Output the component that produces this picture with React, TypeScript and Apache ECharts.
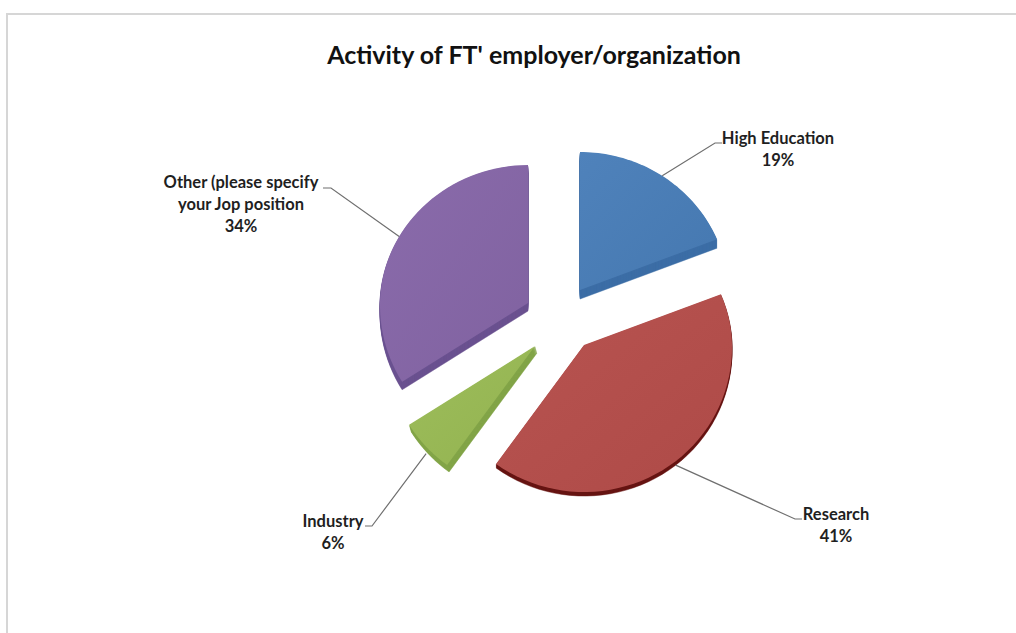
import React, { useEffect, useRef } from "react";
import * as echarts from "echarts";

const titleText = "Activity of FT' employer/organization";
const categories = ["High Education", "Research", "Industry", "Other (please specify\nyour Jop position"];
const values = [19, 41, 6, 34];

const topColors = [
  ["#4f82bb", "#4578b0"],
  ["#b85451", "#ae4a47"],
  ["#9dbd5b", "#93b350"],
  ["#8a6bab", "#8062a0"],
];
const sideColors = ["#3d6ea6", "#661412", "#83a548", "#6b5290"];

// top-surface apex of each exploded slice, and its extrusion vector
const apexes = [[580, 290], [584, 345], [535, 346], [528, 303]];
const depths = [[0, 9], [0, 4], [2, 7], [0, 8]];
const radiusXMean = 148;
const radiusXTilt = 2;
const radiusBack = 138;
const radiusFront = 147;

// leader line: elbow, then end; label centre
const leaderElbows = [[715, 143], [795, 519], [372, 526], [331, 188]];
const leaderEnds = [[722, 143], [802, 519], [365, 526], [323, 188]];
const labelCentres = [[778, 149], [836, 525], [333, 532], [241, 204]];

const total = values.reduce((a, b) => a + b, 0);

function project(apex: number[], turn: number) {
  const t = turn * Math.PI * 2;
  const c = Math.cos(t);
  const rx = radiusXMean - radiusXTilt * c;
  return [apex[0] + rx * Math.sin(t), apex[1] - (c > 0 ? radiusBack : radiusFront) * c];
}

function renderSlice(params: any, api: any) {
  const i = params.dataIndex;
  const value = api.value(0);
  let before = 0;
  for (let k = 0; k < i; k++) before += values[k];
  const start = before / total;
  const end = (before + value) / total;
  const apex = apexes[i];
  const pts: number[][] = [apex];
  const steps = 48;
  for (let s = 0; s <= steps; s++) pts.push(project(apex, start + ((end - start) * s) / steps));

  const children: any[] = [];
  const [dx, dy] = depths[i];
  const layers = Math.max(Math.abs(dx), Math.abs(dy));
  for (let l = layers; l >= 1; l--) {
    const ox = (dx * l) / layers;
    const oy = (dy * l) / layers;
    children.push({
      type: "polygon",
      shape: { points: pts.map((p) => [p[0] + ox, p[1] + oy]) },
      style: { fill: sideColors[i], stroke: sideColors[i], lineWidth: 0.5 },
    });
  }
  children.push({
    type: "polygon",
    shape: { points: pts },
    style: {
      fill: new echarts.graphic.LinearGradient(0, 0, 1, 1, [
        { offset: 0, color: topColors[i][0] },
        { offset: 1, color: topColors[i][1] },
      ]),
    },
  });

  const mid = project(apex, (start + end) / 2);
  const frontish = Math.cos(((start + end) / 2) * Math.PI * 2) < 0;
  children.push({
    type: "polyline",
    shape: { points: [[mid[0], mid[1] + (frontish ? dy : 0)], leaderElbows[i], leaderEnds[i]] },
    style: { stroke: "#6f6f6f", lineWidth: 1.2, fill: "none" },
  });
  children.push({
    type: "text",
    x: labelCentres[i][0],
    y: labelCentres[i][1],
    style: {
      text: `${categories[i]}\n${Math.round((value / total) * 100)}%`,
      fontFamily: "Lato",
      fontWeight: 700,
      fontSize: 16.5,
      lineHeight: 22,
      fill: "#1f1f1f",
      align: "center",
      verticalAlign: "middle",
    },
  });
  return { type: "group", children };
}

export default function App() {
  const ref = useRef<HTMLDivElement>(null);
  useEffect(() => {
    const chart = echarts.init(ref.current!, undefined, { renderer: "svg" });
    chart.setOption({
      animation: false,
      backgroundColor: "#ffffff",
      title: {
        text: titleText,
        left: 529,
        top: 36,
        textAlign: "center",
        textStyle: { fontFamily: "Lato", fontWeight: 700, fontSize: 25, color: "#111111" },
      },
      graphic: [
        {
          type: "rect",
          silent: true,
          z: -1,
          shape: { x: 7, y: 14, width: 1100, height: 700 },
          style: { fill: "none", stroke: "#d6d6d6", lineWidth: 2 },
        },
      ],
      series: [
        {
          type: "custom",
          coordinateSystem: "none",
          data: values.map((v, i) => ({ name: categories[i], value: [v] })),
          renderItem: renderSlice,
          silent: true,
        },
      ],
    });
    return () => chart.dispose();
  }, []);
  return <div ref={ref} style={{ position: "fixed", left: 0, top: 0, width: 1016, height: 633 }} />;
}
